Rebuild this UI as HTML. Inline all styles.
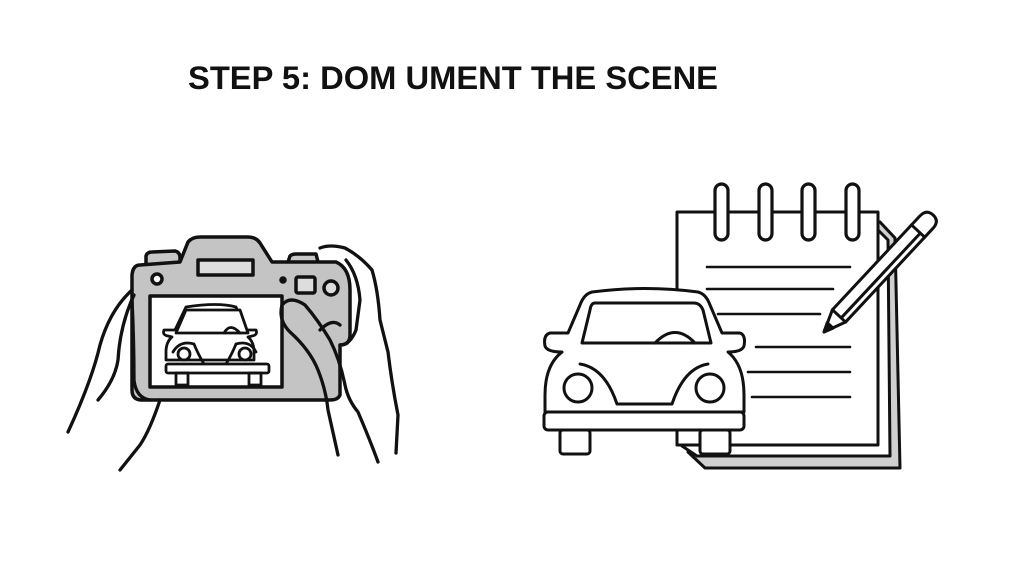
<!DOCTYPE html>
<html><head><style>body{margin:0;background:#fff}svg{display:block}</style></head><body>
<svg width="1024" height="576" viewBox="0 0 1024 576" xmlns="http://www.w3.org/2000/svg" fill="none" stroke="#111" stroke-width="3" stroke-linecap="round" stroke-linejoin="round">
<rect width="1024" height="576" fill="#fff" stroke="none"/>
<text x="188" y="89" font-family="Liberation Sans, sans-serif" font-size="32" font-weight="bold" fill="#111" stroke="none" textLength="530" lengthAdjust="spacingAndGlyphs">STEP 5: DOM UMENT THE SCENE</text>
<!-- camera -->
<g stroke-width="3.5">
<path d="M146 264 L146 256 Q147 252 152 252 L175 251 Q180 252 180 258 L180 262" fill="#c8c8c8"/>
<path d="M288 262 L290 256 Q292 254 296 254 L316 254 L318 262" fill="#c8c8c8"/>
<path d="M140 265 L180 262 L188 242 Q192 237 200 237 L248 237 Q256 237 260 243 L272 262 L336 262 Q350 268 350 290 L350 335 Q350 345 340 345 L340 395 Q338 400 330 400 L142 400 Q132 400 132 390 L132 275 Q133 265 140 265 Z" fill="#c4c4c4"/>
<rect x="198" y="260" width="55" height="15" fill="#ddd"/>
<circle cx="157" cy="279" r="5" fill="#fff"/>
<circle cx="283" cy="280" r="2" fill="#111"/>
<rect x="296" y="277" width="19" height="16" rx="2" fill="#ddd"/>
<circle cx="331" cy="288" r="7" fill="#ddd"/>
<rect x="150" y="296" width="132" height="91" fill="#fff"/>
</g>
<!-- small car -->
<g stroke-width="2.8">
<path d="M186 307 Q218 302 236 307 L245 330 L256 330 Q258 335 252 336 L248 337 Q254 342 254 352 L254 360 L166 360 L166 352 Q166 342 172 337 L168 336 Q162 335 164 330 L175 330 Z" fill="#fff"/>
<path d="M186 310 L240 310 L248 333 L176 333 Z" fill="#fff"/>
<path d="M224 333 Q230 322 240 333"/>
<circle cx="184" cy="354" r="6"/><circle cx="245" cy="354" r="6"/>
<path d="M173 352 Q180 340 194 344 Q198 354 204 364 L226 364 Q232 354 236 344 Q250 340 256 352"/>
<rect x="166" y="364" width="103" height="9" rx="2" fill="#fff"/>
<rect x="176" y="373" width="12" height="12"/><rect x="249" y="373" width="12" height="12"/>
</g>
<!-- hands -->
<g stroke-width="3.3">
<path d="M132 290 Q110 310 100 345 Q92 380 68 432"/>
<path d="M134 295 Q120 325 118 360 Q115 380 98 400"/>
<path d="M160 400 Q150 430 140 445 Q128 460 120 470"/>
<path d="M132 300 Q134 340 134 380 Q136 398 150 400"/>
<path d="M282 305 Q290 295 305 305 Q318 320 330 340 Q340 360 345 385 Q348 400 358 412 Q370 440 378 462"/>
<path d="M282 305 Q278 320 290 332 Q310 350 318 370 Q326 390 328 410 L338 455"/>
<path d="M320 248 Q330 244 345 248 Q360 256 372 270 Q378 290 380 320 L388 352 Q392 385 398 415 L396 453"/>
<path d="M346 260 Q358 275 360 300 L356 330 Q350 345 340 345"/>
<path d="M320 330 Q332 318 340 325"/>
</g>
<!-- notepad back pages -->
<path d="M880 222 L895 238 L900 468 L705 468 L688 452" fill="#d0d0d0"/>
<path d="M878 230 L888 240 L890 456 L697 456 L682 446" fill="#fff"/>
<rect x="677" y="212" width="201" height="233" fill="#fff"/>
<g stroke-width="3.2">
<rect x="715" y="184" width="13" height="56" rx="6.5" fill="#fff"/>
<rect x="759" y="184" width="13" height="56" rx="6.5" fill="#fff"/>
<rect x="802" y="184" width="13" height="56" rx="6.5" fill="#fff"/>
<rect x="846" y="184" width="13" height="56" rx="6.5" fill="#fff"/>
</g>
<path d="M707 267 H850 M707 289 H833 M718 314 H820 M756 347 H850 M748 372 H850 M752 397 H850" stroke-width="2.6"/>
<!-- pencil -->
<g transform="translate(824 332) rotate(-47)">
<path d="M0 0 L22 -9 L150 -9 Q160 -9 160 0 Q160 9 150 9 L22 9 Z" fill="#fff"/>
<path d="M0 0 L9 -4 L9 4 Z" fill="#111"/>
<path d="M22 -9 L22 9 M138 -9 L138 9 M22 3 L138 3"/>
</g>
<!-- big car -->
<path d="M592 292 Q645 285 698 292 Q706 294 710 305 L722 333 L740 333 Q746 335 744 346 Q742 352 728 352 Q744 365 744 395 L744 412 L545 412 L545 395 Q545 365 562 352 Q547 352 545 346 Q543 335 550 333 L568 333 L580 305 Q584 294 592 292 Z" fill="#fff"/>
<path d="M595 303 L694 303 Q700 303 703 310 L711 343 L582 343 L590 310 Q591 303 595 303 Z" fill="#fff"/>
<path d="M655 343 Q675 322 695 343"/>
<circle cx="578" cy="388" r="14"/><circle cx="710" cy="388" r="14"/>
<path d="M580 364 Q605 368 617 404 L672 404 Q684 368 708 364"/>
<rect x="544" y="412" width="200" height="18" rx="4" fill="#fff"/>
<rect x="560" y="430" width="30" height="24" rx="3" fill="#fff"/>
<rect x="700" y="430" width="30" height="24" rx="3" fill="#fff"/>
</svg>
</body></html>
